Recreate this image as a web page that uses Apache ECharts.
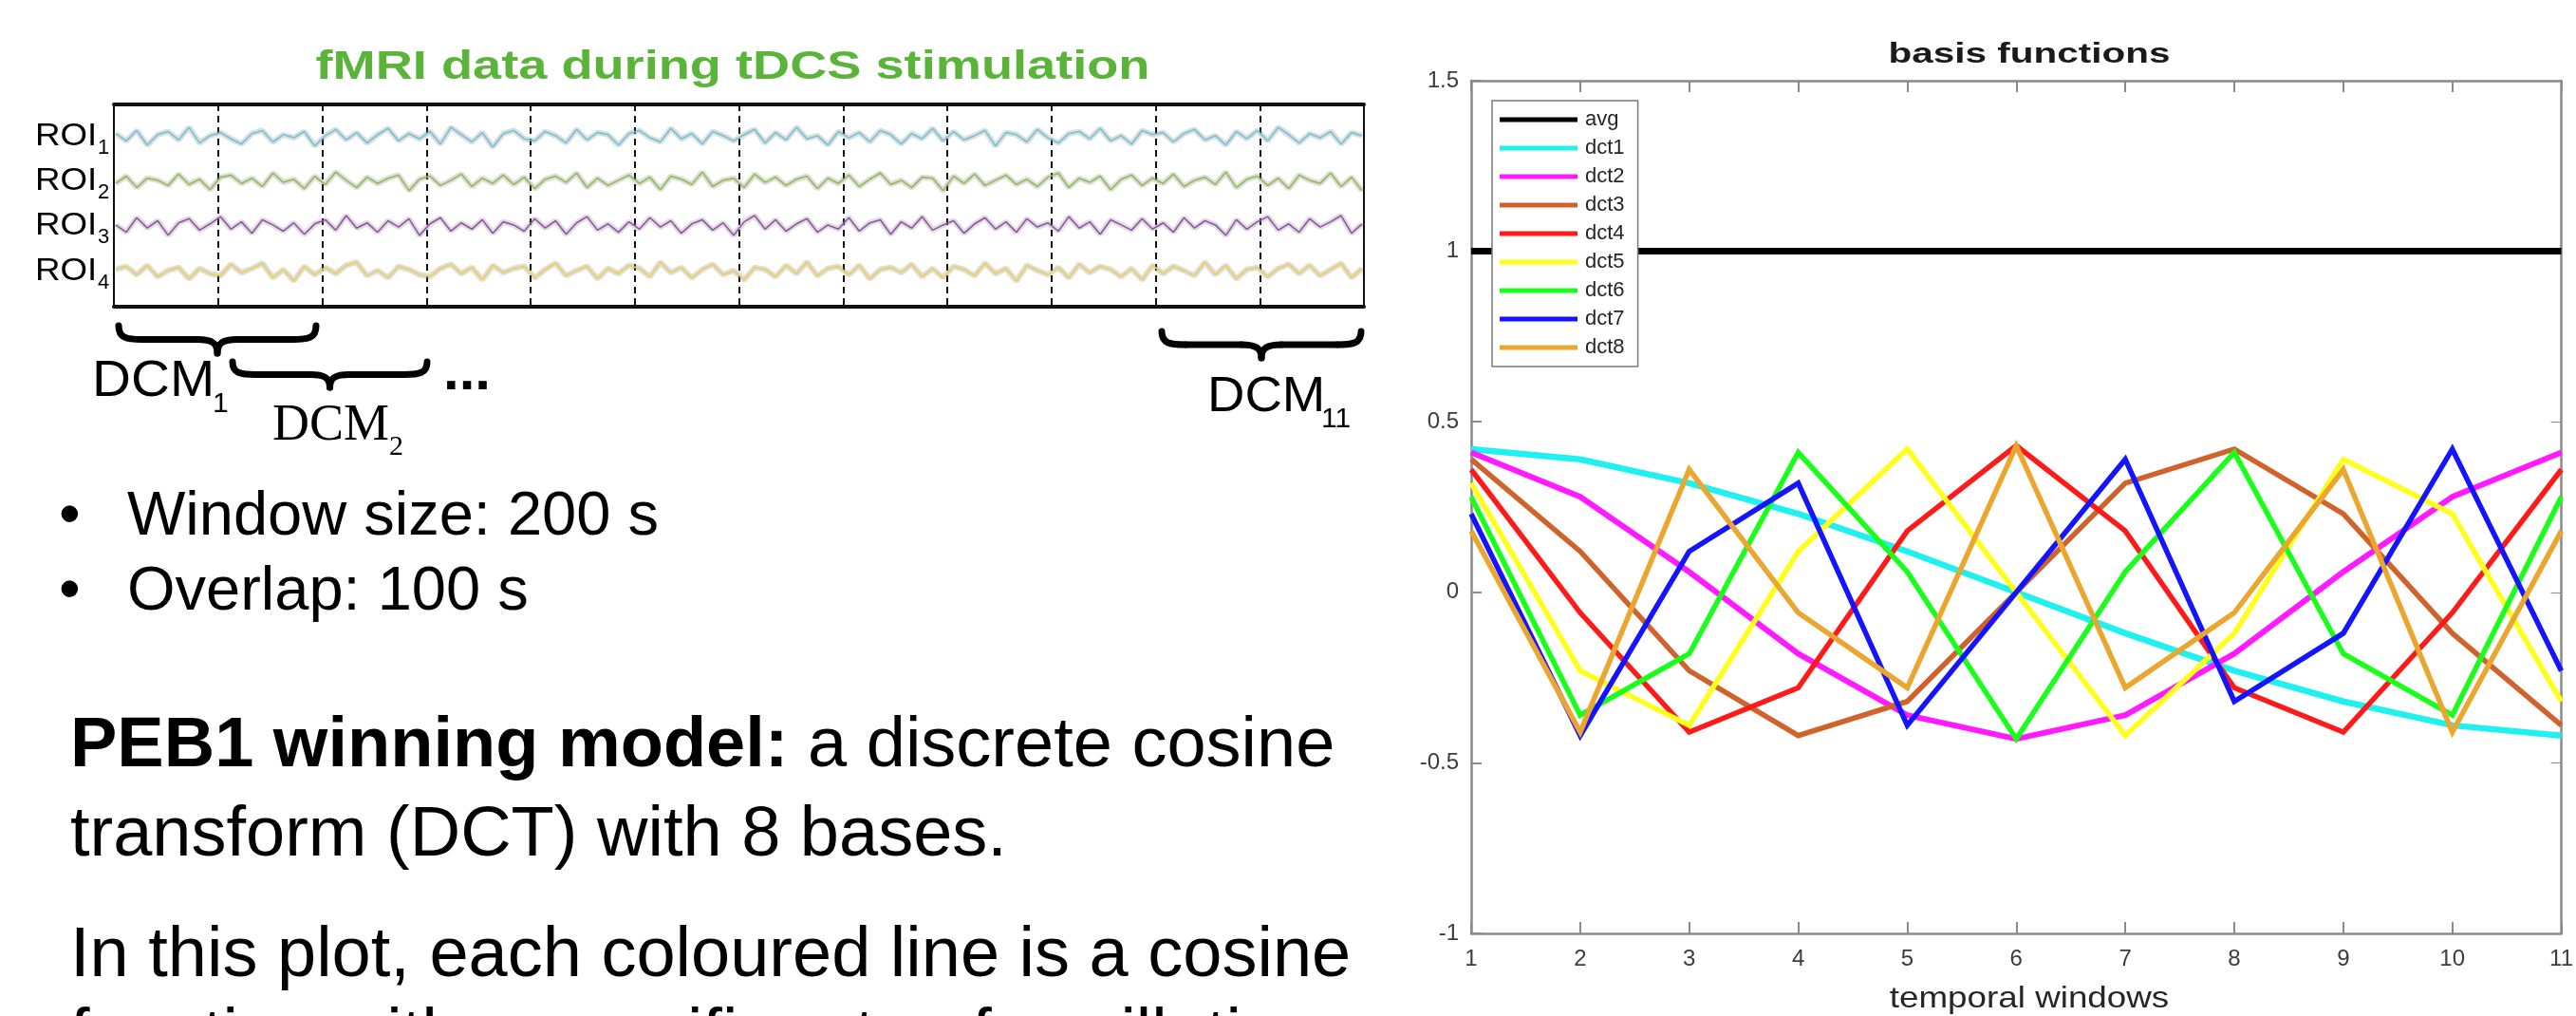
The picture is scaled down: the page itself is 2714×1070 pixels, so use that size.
<!DOCTYPE html>
<html>
<head>
<meta charset="utf-8">
<script src="https://cdn.jsdelivr.net/npm/echarts@6/dist/echarts.min.js"></script>
<style>
html, body { margin: 0; padding: 0; background: #fff; }
#chart { width: 2714px; height: 1070px; }
</style>
</head>
<body>
<div id="chart"></div>
<script>
// basis functions (right panel)
const windows = [1, 2, 3, 4, 5, 6, 7, 8, 9, 10, 11];
const avg  = [1, 1, 1, 1, 1, 1, 1, 1, 1, 1, 1];
const dct1 = [0.42, 0.39, 0.32, 0.23, 0.12, 0.00, -0.12, -0.23, -0.32, -0.39, -0.42];
const dct2 = [0.41, 0.28, 0.06, -0.18, -0.36, -0.43, -0.36, -0.18, 0.06, 0.28, 0.41];
const dct3 = [0.39, 0.12, -0.23, -0.42, -0.32, 0.00, 0.32, 0.42, 0.23, -0.12, -0.39];
const dct4 = [0.36, -0.06, -0.41, -0.28, 0.18, 0.43, 0.18, -0.28, -0.41, -0.06, 0.36];
const dct5 = [0.32, -0.23, -0.39, 0.12, 0.42, 0.00, -0.42, -0.12, 0.39, 0.23, -0.32];
const dct6 = [0.28, -0.36, -0.18, 0.41, 0.06, -0.43, 0.06, 0.41, -0.18, -0.36, 0.28];
const dct7 = [0.23, -0.42, 0.12, 0.32, -0.39, 0.00, 0.39, -0.32, -0.12, 0.42, -0.23];
const dct8 = [0.18, -0.41, 0.36, -0.06, -0.28, 0.43, -0.28, -0.06, 0.36, -0.41, 0.18];
const seriesNames = ['avg', 'dct1', 'dct2', 'dct3', 'dct4', 'dct5', 'dct6', 'dct7', 'dct8'];

// fMRI traces (left panel), 12 window segments
const roiNames = ['ROI', 'ROI', 'ROI', 'ROI'];
const roi1 = [0.3,-0.4,0.6,-0.8,0.2,0.5,-0.3,0.9,-0.6,0.1,
  0.4,-0.2,-0.7,0.3,0.6,-0.5,0.2,-0.1,0.5,-0.9,
  0.1,0.7,-0.3,0.4,-0.6,0.2,0.8,-0.4,0.3,-0.2,
  0.5,-0.7,0.9,0.2,-0.5,0.4,-1.0,0.3,0.6,-0.2,
  -0.4,0.5,0.1,-0.6,0.7,-0.3,0.4,0.2,-0.8,0.3,
  0.6,-0.1,-0.5,0.8,-0.2,0.3,-0.7,0.5,0.1,-0.4,
  0.2,0.7,-0.6,0.4,-0.3,0.9,-0.2,0.1,-0.8,0.5,
  -0.1,0.4,-0.5,0.6,0.2,-0.7,0.3,-0.2,0.8,-0.4,
  0.5,-0.3,0.1,0.6,-0.9,0.4,0.2,-0.5,0.7,-0.1,
  -0.6,0.3,0.5,-0.2,0.8,-0.4,0.1,-0.7,0.6,0.2,
  0.4,-0.5,0.3,0.7,-0.3,0.1,-0.8,0.5,-0.2,0.6,
  -0.4,0.9,0.2,-0.6,0.3,-0.1,0.5,-0.7,0.4,0.1];
const roi2 = [-0.2,0.5,-0.6,0.3,0.1,-0.4,0.7,-0.3,0.2,-0.8,
  0.4,0.6,-0.2,0.3,-0.5,0.8,-0.1,0.2,-0.7,0.5,
  -0.3,0.9,0.1,-0.6,0.4,-0.2,0.3,0.6,-0.9,0.2,
  0.5,-0.4,0.1,0.7,-0.5,0.3,-0.2,0.6,-0.3,0.4,
  -0.7,0.2,0.5,-0.1,0.8,-0.6,0.3,-0.4,0.1,0.6,
  -0.2,0.4,-0.8,0.5,0.2,-0.3,0.9,-0.5,0.1,0.3,
  -0.6,0.7,-0.1,0.4,-0.4,0.2,0.5,-0.7,0.3,-0.2,
  0.6,-0.5,0.2,0.8,-0.3,0.1,-0.6,0.4,0.3,-0.9,
  0.5,-0.2,0.7,-0.4,0.1,0.6,-0.3,0.2,-0.5,0.4,
  0.8,-0.6,0.3,-0.1,0.5,-0.8,0.2,0.6,-0.4,0.3,
  -0.2,0.7,-0.5,0.1,0.4,-0.3,0.9,-0.6,0.2,0.5,
  -0.4,0.3,-0.7,0.6,0.1,-0.2,0.8,-0.5,0.4,-0.9];
const roi3 = [0.1,-0.6,0.8,-0.2,0.5,-0.9,0.3,0.7,-0.4,0.2,
  0.9,-0.3,0.4,-0.7,0.6,0.1,-0.5,0.3,-0.8,0.2,
  0.6,-0.4,1.0,-0.2,0.3,-0.6,0.5,-0.1,0.7,-0.9,
  0.2,0.8,-0.5,0.3,-0.3,0.6,-0.7,0.4,0.1,-0.5,
  0.7,-0.2,0.5,-0.8,0.3,0.9,-0.4,0.2,-0.6,0.4,
  -0.3,0.8,-0.1,0.5,-0.7,0.2,0.6,-0.4,0.3,-0.9,
  0.4,1.0,-0.3,0.6,-0.5,0.2,0.7,-0.6,0.1,-0.3,
  0.8,-0.5,0.3,0.6,-0.8,0.4,-0.2,0.9,-0.4,0.1,
  0.5,-0.7,0.2,0.8,-0.3,0.4,-0.6,0.7,-0.1,0.3,
  -0.5,0.9,-0.2,0.4,-0.8,0.6,0.1,-0.4,0.7,-0.3,
  0.3,-0.6,0.8,-0.2,0.5,0.1,-0.9,0.6,-0.3,0.4,
  0.9,-0.4,0.2,-0.6,0.7,-0.1,0.4,1.0,-0.7,0.2];
const roi4 = [0.2,0.5,-0.3,0.6,-0.5,0.1,0.4,-0.7,0.3,-0.2,
  -0.4,0.7,-0.1,0.3,0.8,-0.6,0.2,-0.9,0.5,-0.3,
  0.4,-0.2,0.6,0.9,-0.4,0.1,-0.6,0.5,0.2,-0.3,
  -0.5,0.3,0.7,-0.2,0.4,-0.8,0.6,-0.1,0.3,0.5,
  -0.6,0.2,0.8,-0.4,0.1,0.5,-0.7,0.3,-0.2,0.6,
  0.3,-0.5,0.9,-0.1,0.4,-0.6,0.2,0.7,-0.3,0.1,
  -0.8,0.4,0.2,-0.5,0.6,-0.2,0.9,-0.4,0.3,0.5,
  -0.3,0.6,-0.7,0.2,0.4,-0.1,0.7,-0.5,0.3,-0.6,
  0.5,0.2,-0.4,0.8,-0.2,0.3,-0.9,0.6,0.1,-0.3,
  0.4,-0.6,0.7,-0.1,0.5,0.2,-0.5,0.3,-0.8,0.6,
  -0.2,0.5,0.1,-0.4,0.9,-0.3,0.6,-0.7,0.2,0.4,
  -0.5,0.3,0.7,-0.2,0.6,-0.4,0.2,0.8,-0.6,0.3];
const roiData = [roi1, roi2, roi3, roi4];

const chart = echarts.init(document.getElementById('chart'));

const lineColors = ['#000000', '#1ff0f0', '#ff1aff', '#d0632c', '#ff1a1a', '#ffff1a', '#1aff1a', '#1414ff', '#eaa62e'];
const lineWidths = [7, 6.5, 6, 5.5, 5.5, 5.5, 5.5, 5.5, 5.5];
const roiColors = ['#6fc4dc', '#8fbd4e', '#9552a8', '#efd050'];
const roiCenters = [144, 191, 238, 286];
const sans = '"Liberation Sans", Arial, Helvetica, sans-serif';
const serif = '"Liberation Serif", "Times New Roman", serif';
const matlabGrey = '#8a8a8a';

function txt(str, x, y, size, o) {
  o = o || {};
  const style = {
    text: str, fill: o.color || '#000',
    fontSize: size, fontFamily: o.family || sans, fontWeight: o.weight || 'normal',
    textAlign: o.align || 'left', textVerticalAlign: 'middle',
    align: o.align || 'left', verticalAlign: 'middle'
  };
  if (o.rich) style.rich = o.rich;
  return { type: 'text', x: x, y: y, scaleX: o.sx || 1, silent: true, z: 10, style: style };
}

// curly brace opening upwards, tip pointing down
function brace(x0, x1, y0, h) {
  const w = x1 - x0, m = h * 0.5;
  const st = { stroke: '#000', lineWidth: 7, lineCap: 'round', fill: null };
  const seg = function (a, b, c, d) {
    return { type: 'bezierCurve', silent: true, style: st,
      shape: { x1: a[0], y1: a[1], cpx1: b[0], cpy1: b[1], cpx2: c[0], cpy2: c[1], x2: d[0], y2: d[1] } };
  };
  const ln = function (a, b) {
    return { type: 'line', silent: true, style: st, shape: { x1: a[0], y1: a[1], x2: b[0], y2: b[1] } };
  };
  return {
    type: 'group', x: x0, y: y0, silent: true,
    children: [
      seg([0, 0], [0, h * 0.45], [w * 0.04, m], [w * 0.12, m]),
      ln([w * 0.12, m], [w * 0.4, m]),
      seg([w * 0.4, m], [w * 0.47, m], [w * 0.5, h * 0.62], [w * 0.5, h]),
      seg([w * 0.5, h], [w * 0.5, h * 0.62], [w * 0.53, m], [w * 0.6, m]),
      ln([w * 0.6, m], [w * 0.88, m]),
      seg([w * 0.88, m], [w * 0.96, m], [w, h * 0.45], [w, 0])
    ]
  };
}

// grids: 0 = basis functions, 1 = fMRI box, 2..5 = ROI traces
const grids = [
  { left: 1550, top: 85, width: 1181, height: 898 },
  { left: 120, top: 110, width: 1317, height: 213 }
];
roiCenters.forEach(function (c) {
  grids.push({ left: 122, top: c - 23, width: 1313, height: 46 });
});

const xAxes = [
  {
    gridIndex: 0, type: 'value', min: 1, max: 11, interval: 1, position: 'bottom',
    axisLine: { onZero: false, lineStyle: { color: matlabGrey, width: 2.5 } },
    axisTick: { inside: true, length: 12, lineStyle: { color: matlabGrey, width: 2 } },
    axisLabel: { fontSize: 24, color: '#3c3c3c', margin: 15, fontFamily: sans },
    splitLine: { show: false }
  },
  {
    gridIndex: 0, type: 'value', min: 1, max: 11, interval: 1, position: 'top',
    axisLine: { onZero: false, lineStyle: { color: matlabGrey, width: 2.5 } },
    axisTick: { inside: true, length: 12, lineStyle: { color: matlabGrey, width: 2 } },
    axisLabel: { show: false }, splitLine: { show: false }
  },
  {
    gridIndex: 1, type: 'value', min: 0, max: 12, interval: 1, position: 'bottom',
    axisLine: { onZero: false, lineStyle: { color: '#111', width: 4 } },
    axisTick: { show: false }, axisLabel: { show: false },
    splitLine: { show: true, lineStyle: { color: '#111', width: 2, type: [7, 5] } }
  },
  {
    gridIndex: 1, type: 'value', min: 0, max: 12, interval: 1, position: 'top',
    axisLine: { onZero: false, lineStyle: { color: '#111', width: 4 } },
    axisTick: { show: false }, axisLabel: { show: false }, splitLine: { show: false }
  }
];
const yAxes = [
  {
    gridIndex: 0, type: 'value', min: -1, max: 1.5, interval: 0.5, position: 'left',
    axisLine: { show: true, onZero: false, lineStyle: { color: matlabGrey, width: 2.5 } },
    axisTick: { show: true, inside: true, length: 11, lineStyle: { color: matlabGrey, width: 2 } },
    axisLabel: { fontSize: 24, color: '#3c3c3c', margin: 13, fontFamily: sans },
    splitLine: { show: false }
  },
  {
    gridIndex: 0, type: 'value', min: -1, max: 1.5, interval: 0.5, position: 'right',
    axisLine: { show: true, onZero: false, lineStyle: { color: matlabGrey, width: 2.5 } },
    axisTick: { show: true, inside: true, length: 11 }, axisLabel: { show: false }, splitLine: { show: false }
  },
  {
    gridIndex: 1, type: 'value', min: 0, max: 1, position: 'left',
    axisLine: { show: true, onZero: false, lineStyle: { color: '#111', width: 2 } },
    axisTick: { show: false }, axisLabel: { show: false }, splitLine: { show: false }
  },
  {
    gridIndex: 1, type: 'value', min: 0, max: 1, position: 'right',
    axisLine: { show: true, onZero: false, lineStyle: { color: '#111', width: 2 } },
    axisTick: { show: false }, axisLabel: { show: false }, splitLine: { show: false }
  }
];

const series = [];
const basis = [avg, dct1, dct2, dct3, dct4, dct5, dct6, dct7, dct8];
basis.forEach(function (vals, i) {
  series.push({
    name: seriesNames[i], type: 'line', xAxisIndex: 0, yAxisIndex: 0,
    showSymbol: false, symbol: 'none', silent: true,
    data: windows.map(function (w, j) { return [w, vals[j]]; }),
    lineStyle: { color: lineColors[i], width: lineWidths[i], join: 'miter' },
    itemStyle: { color: lineColors[i] }
  });
});

roiData.forEach(function (vals, i) {
  const cats = vals.map(function (v, j) { return j; });
  xAxes.push({ gridIndex: i + 2, type: 'category', data: cats, boundaryGap: false, show: false });
  yAxes.push({ gridIndex: i + 2, type: 'value', min: -2.1, max: 2.1, show: false });
  series.push({
    name: 'shade' + i, type: 'line', xAxisIndex: i + 4, yAxisIndex: i + 4, silent: true,
    symbol: 'none', data: vals,
    lineStyle: { color: 'rgba(120,120,120,0.25)', width: 6 }
  });
  series.push({
    name: 'trace' + i, type: 'line', xAxisIndex: i + 4, yAxisIndex: i + 4, silent: true,
    symbol: 'none', data: vals,
    lineStyle: { color: roiColors[i], width: 1.6 }
  });
});

const graphics = [
  // right panel title and axis name
  txt('basis functions', 2138, 58, 30, { weight: 'bold', align: 'center', sx: 1.35, color: '#1a1a1a' }),
  txt('temporal windows', 2138, 1052, 32, { align: 'center', sx: 1.15, color: '#262626' }),
  // left panel figure
  txt('fMRI data during tDCS stimulation', 772, 71, 42, { weight: 'bold', align: 'center', sx: 1.29, color: '#5ab43a' }),
  brace(125, 333, 343, 29),
  brace(245, 450, 381, 27),
  brace(1224, 1434, 349, 28),
  txt('DCM', 97, 402, 54, { sx: 1.05 }),
  txt('1', 224, 426, 30),
  txt('DCM', 287, 449, 54, { family: serif }),
  txt('2', 410, 471, 30, { family: serif }),
  txt('...', 467, 393, 60, { weight: 'bold' }),
  txt('DCM', 1272, 419, 52, { sx: 1.05 }),
  txt('11', 1392, 442, 30),
  // slide text
  txt('\u2022', 62, 545, 65),
  txt('Window size: 200 s', 134, 545, 65),
  txt('\u2022', 62, 624, 65),
  txt('Overlap: 100 s', 134, 624, 65),
  txt('{b|PEB1 winning model:} a discrete cosine', 74, 787, 74, { rich: { b: { fontWeight: 'bold', fontSize: 74, fontFamily: sans } } }),
  txt('transform (DCT) with 8 bases.', 74, 881, 74),
  txt('In this plot, each coloured line is a cosine', 74, 1008, 74),
  txt('function with a specific rate of oscillation', 74, 1094, 74)
];
roiCenters.forEach(function (c, i) {
  graphics.push(txt(roiNames[i], 37, c, 34, { sx: 1.08 }));
  graphics.push(txt(String(i + 1), 103, c + 12, 22));
});

chart.setOption({
  backgroundColor: '#ffffff',
  animation: false,
  grid: grids,
  xAxis: xAxes,
  yAxis: yAxes,
  legend: {
    data: seriesNames, left: 1572, top: 106, orient: 'vertical', icon: 'rect',
    itemWidth: 82, itemHeight: 5, itemGap: 8, padding: [9, 14, 9, 8],
    borderColor: '#7a7a7a', borderWidth: 1.5, backgroundColor: '#ffffff',
    itemStyle: { borderWidth: 0 },
    textStyle: { fontSize: 22, color: '#262626', fontFamily: sans, padding: [0, 0, 0, 3] }
  },
  series: series,
  graphic: graphics
});
</script>
</body>
</html>
